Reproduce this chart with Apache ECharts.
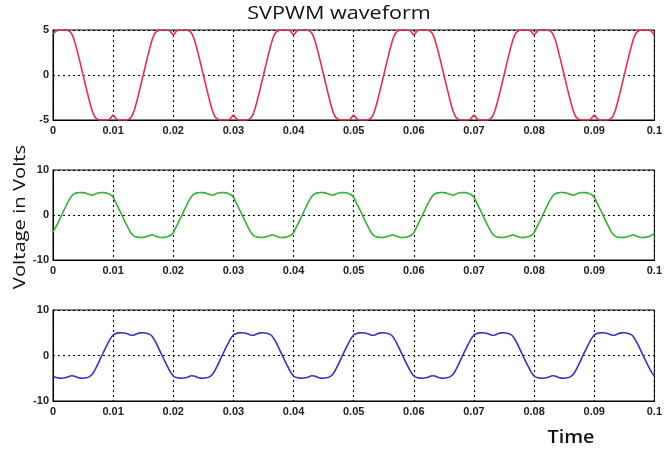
<!DOCTYPE html>
<html>
<head>
<meta charset="utf-8">
<script src="https://cdn.jsdelivr.net/npm/echarts@6/dist/echarts.min.js"></script>
<style>
html,body{margin:0;padding:0;background:#fff;}
#chart{width:665px;height:450px;}
</style>
</head>
<body>
<div id="chart"></div>
<script>
// Sampling step of the time axis (s)
const sampleStep = 0.0005;
const xTicks = [0, 0.01, 0.02, 0.03, 0.04, 0.05, 0.06, 0.07, 0.08, 0.09, 0.1];

// Top panel (red), every 0.5 ms
const phaseA = [
  4.6, 4.85, 5, 5, 5, 4.95, 4.7, 3.95, 2.75, 1.4,
  0, -1.4, -2.75, -3.95, -4.7, -4.95, -5, -5, -5, -4.85,
  -4.45, -4.85, -5, -5, -5, -4.95, -4.7, -3.95, -2.75, -1.4,
  0, 1.4, 2.75, 3.95, 4.7, 4.95, 5, 5, 5, 4.85,
  4.45, 4.85, 5, 5, 5, 4.95, 4.7, 3.95, 2.75, 1.4,
  0, -1.4, -2.75, -3.95, -4.7, -4.95, -5, -5, -5, -4.85,
  -4.45, -4.85, -5, -5, -5, -4.95, -4.7, -3.95, -2.75, -1.4,
  0, 1.4, 2.75, 3.95, 4.7, 4.95, 5, 5, 5, 4.85,
  4.45, 4.85, 5, 5, 5, 4.95, 4.7, 3.95, 2.75, 1.4,
  0, -1.4, -2.75, -3.95, -4.7, -4.95, -5, -5, -5, -4.85,
  -4.45, -4.85, -5, -5, -5, -4.95, -4.7, -3.95, -2.75, -1.4,
  0, 1.4, 2.75, 3.95, 4.7, 4.95, 5, 5, 5, 4.85,
  4.45, 4.85, 5, 5, 5, 4.95, 4.7, 3.95, 2.75, 1.4,
  0, -1.4, -2.75, -3.95, -4.7, -4.95, -5, -5, -5, -4.85,
  -4.45, -4.85, -5, -5, -5, -4.95, -4.7, -3.95, -2.75, -1.4,
  0, 1.4, 2.75, 3.95, 4.7, 4.95, 5, 5, 5, 4.85,
  4.45, 4.85, 5, 5, 5, 4.95, 4.7, 3.95, 2.75, 1.4,
  0, -1.4, -2.75, -3.95, -4.7, -4.95, -5, -5, -5, -4.85,
  -4.45, -4.85, -5, -5, -5, -4.95, -4.7, -3.95, -2.75, -1.4,
  0, 1.4, 2.75, 3.95, 4.7, 4.95, 5, 5, 5, 4.85,
  4.45
];

// Middle panel (green)
const phaseB = [
  -3.75, -2.6, -1.25, 0.15, 1.55, 2.9, 4.05, 4.7, 4.92, 5.0,
  4.98, 4.85, 4.6, 4.38, 4.65, 4.88, 5.0, 4.98, 4.85, 4.55,
  3.95, 2.6, 1.25, -0.15, -1.55, -2.9, -4.05, -4.7, -4.92, -5.0,
  -4.98, -4.85, -4.6, -4.38, -4.65, -4.88, -5.0, -4.98, -4.85, -4.55,
  -3.95, -2.6, -1.25, 0.15, 1.55, 2.9, 4.05, 4.7, 4.92, 5.0,
  4.98, 4.85, 4.6, 4.38, 4.65, 4.88, 5.0, 4.98, 4.85, 4.55,
  3.95, 2.6, 1.25, -0.15, -1.55, -2.9, -4.05, -4.7, -4.92, -5.0,
  -4.98, -4.85, -4.6, -4.38, -4.65, -4.88, -5.0, -4.98, -4.85, -4.55,
  -3.95, -2.6, -1.25, 0.15, 1.55, 2.9, 4.05, 4.7, 4.92, 5.0,
  4.98, 4.85, 4.6, 4.38, 4.65, 4.88, 5.0, 4.98, 4.85, 4.55,
  3.95, 2.6, 1.25, -0.15, -1.55, -2.9, -4.05, -4.7, -4.92, -5.0,
  -4.98, -4.85, -4.6, -4.38, -4.65, -4.88, -5.0, -4.98, -4.85, -4.55,
  -3.95, -2.6, -1.25, 0.15, 1.55, 2.9, 4.05, 4.7, 4.92, 5.0,
  4.98, 4.85, 4.6, 4.38, 4.65, 4.88, 5.0, 4.98, 4.85, 4.55,
  3.95, 2.6, 1.25, -0.15, -1.55, -2.9, -4.05, -4.7, -4.92, -5.0,
  -4.98, -4.85, -4.6, -4.38, -4.65, -4.88, -5.0, -4.98, -4.85, -4.55,
  -3.95, -2.6, -1.25, 0.15, 1.55, 2.9, 4.05, 4.7, 4.92, 5.0,
  4.98, 4.85, 4.6, 4.38, 4.65, 4.88, 5.0, 4.98, 4.85, 4.55,
  3.95, 2.6, 1.25, -0.15, -1.55, -2.9, -4.05, -4.7, -4.92, -5.0,
  -4.98, -4.85, -4.6, -4.38, -4.65, -4.88, -5.0, -4.98, -4.85, -4.55,
  -4.1
];

// Bottom panel (blue)
const phaseC = [
  -4.5, -4.85, -4.98, -5.0, -4.9, -4.7, -4.45, -4.5, -4.8, -4.97,
  -5.0, -4.9, -4.7, -4.2, -3.1, -1.8, -0.35, 1.0, 2.35, 3.6,
  4.5, 4.85, 4.98, 5.0, 4.9, 4.7, 4.45, 4.5, 4.8, 4.97,
  5.0, 4.9, 4.7, 4.2, 3.1, 1.8, 0.35, -1.0, -2.35, -3.6,
  -4.5, -4.85, -4.98, -5.0, -4.9, -4.7, -4.45, -4.5, -4.8, -4.97,
  -5.0, -4.9, -4.7, -4.2, -3.1, -1.8, -0.35, 1.0, 2.35, 3.6,
  4.5, 4.85, 4.98, 5.0, 4.9, 4.7, 4.45, 4.5, 4.8, 4.97,
  5.0, 4.9, 4.7, 4.2, 3.1, 1.8, 0.35, -1.0, -2.35, -3.6,
  -4.5, -4.85, -4.98, -5.0, -4.9, -4.7, -4.45, -4.5, -4.8, -4.97,
  -5.0, -4.9, -4.7, -4.2, -3.1, -1.8, -0.35, 1.0, 2.35, 3.6,
  4.5, 4.85, 4.98, 5.0, 4.9, 4.7, 4.45, 4.5, 4.8, 4.97,
  5.0, 4.9, 4.7, 4.2, 3.1, 1.8, 0.35, -1.0, -2.35, -3.6,
  -4.5, -4.85, -4.98, -5.0, -4.9, -4.7, -4.45, -4.5, -4.8, -4.97,
  -5.0, -4.9, -4.7, -4.2, -3.1, -1.8, -0.35, 1.0, 2.35, 3.6,
  4.5, 4.85, 4.98, 5.0, 4.9, 4.7, 4.45, 4.5, 4.8, 4.97,
  5.0, 4.9, 4.7, 4.2, 3.1, 1.8, 0.35, -1.0, -2.35, -3.6,
  -4.5, -4.85, -4.98, -5.0, -4.9, -4.7, -4.45, -4.5, -4.8, -4.97,
  -5.0, -4.9, -4.7, -4.2, -3.1, -1.8, -0.35, 1.0, 2.35, 3.6,
  4.5, 4.85, 4.98, 5.0, 4.9, 4.7, 4.45, 4.5, 4.8, 4.97,
  5.0, 4.9, 4.7, 4.2, 3.1, 1.8, 0.35, -1.0, -2.35, -3.6,
  -4.5
];

const yTicksTop = [-5, 0, 5];
const yTicksLow = [-10, 0, 10];

const titleText = 'SVPWM waveform';
const yLabelText = 'Voltage in Volts';
const xLabelText = 'Time';

function toPairs(vals) {
  return vals.map((v, i) => [+(i * sampleStep).toFixed(4), v]);
}

const chart = echarts.init(document.getElementById('chart'), null, {renderer: 'canvas'});

const labelFont = {
  fontFamily: 'Liberation Sans Narrow, Liberation Sans, Arial, sans-serif',
  fontWeight: 'bold',
  fontSize: 11,
  color: '#222'
};
const gridLine = {show: true, lineStyle: {color: '#000', type: [2, 3], width: 1.1}};

function xAxis(idx) {
  return {
    type: 'value', gridIndex: idx, min: xTicks[0], max: xTicks[xTicks.length - 1], interval: 0.01,
    axisLine: {show: true, onZero: false, lineStyle: {color: '#000', width: 1}},
    axisTick: {show: false},
    splitLine: gridLine,
    axisLabel: Object.assign({margin: 5, formatter: v => String(+v.toFixed(2))}, labelFont)
  };
}
function yAxis(idx, ticks) {
  return {
    type: 'value', gridIndex: idx, min: ticks[0], max: ticks[ticks.length - 1],
    interval: ticks[1] - ticks[0],
    axisLine: {show: true, lineStyle: {color: '#000', width: 1}},
    axisTick: {show: false},
    splitLine: gridLine,
    axisLabel: Object.assign({margin: 4}, labelFont)
  };
}

const option = {
  backgroundColor: '#fff',
  animation: false,
  grid: [
    {left: 53, top: 30, width: 609, height: 90, show: true, borderColor: '#000', borderWidth: 1},
    {left: 53, top: 170, width: 609, height: 90, show: true, borderColor: '#000', borderWidth: 1},
    {left: 53, top: 310, width: 609, height: 91, show: true, borderColor: '#000', borderWidth: 1}
  ],
  xAxis: [xAxis(0), xAxis(1), xAxis(2)],
  yAxis: [yAxis(0, yTicksTop), yAxis(1, yTicksLow), yAxis(2, yTicksLow)],
  graphic: [
    {type: 'text', x: 339, y: 14, scaleX: 1.2,
     style: {text: titleText, textAlign: 'center', textVerticalAlign: 'middle', font: '18px "Open Sans", sans-serif', fill: '#111'}},
    {type: 'text', x: 20, y: 217, rotation: Math.PI / 2, scaleX: 1.19,
     style: {text: yLabelText, textAlign: 'center', textVerticalAlign: 'middle', font: '17px "Open Sans", sans-serif', fill: '#111'}},
    {type: 'text', x: 571, y: 438, scaleX: 1.1,
     style: {text: xLabelText, textAlign: 'center', textVerticalAlign: 'middle', font: '600 18px "Open Sans", sans-serif', fill: '#111'}}
  ],
  series: [
    {type: 'line', xAxisIndex: 0, yAxisIndex: 0, data: toPairs(phaseA), showSymbol: false, smooth: 0.2,
     lineStyle: {color: '#e6304a', width: 1.6}, itemStyle: {color: '#e6304a'}},
    {type: 'line', xAxisIndex: 1, yAxisIndex: 1, data: toPairs(phaseB), showSymbol: false, smooth: 0.2,
     lineStyle: {color: '#33b233', width: 1.6}, itemStyle: {color: '#33b233'}},
    {type: 'line', xAxisIndex: 2, yAxisIndex: 2, data: toPairs(phaseC), showSymbol: false, smooth: 0.2,
     lineStyle: {color: '#3434c8', width: 1.6}, itemStyle: {color: '#3434c8'}}
  ]
};
chart.setOption(option);
</script>
</body>
</html>
